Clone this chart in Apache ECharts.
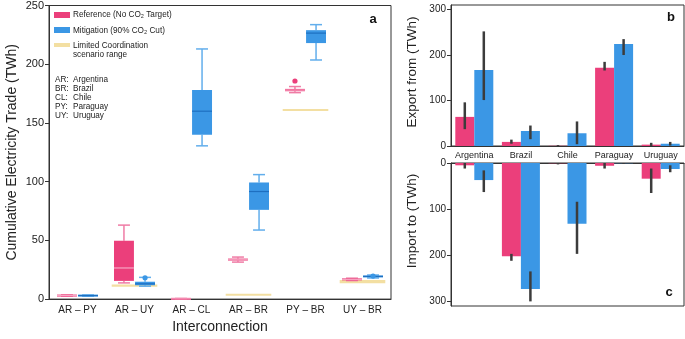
<!DOCTYPE html>
<html><head><meta charset="utf-8">
<script src="https://cdn.jsdelivr.net/npm/echarts/dist/echarts.min.js"></script>
<style>html,body{margin:0;padding:0;background:#fff}#c{width:685px;height:339px}</style>
</head><body><div id="c"></div>
<script>
// ---- Panel a: cumulative electricity trade by interconnection ----
const interconnections = ['AR – PY','AR – UY','AR – CL','AR – BR','PY – BR','UY – BR'];
// [min, q1, median, q3, max]
const refBox = [[2.5,2.8,3,3.2,3.5],[13.8,15.5,26.5,49.7,63],[0,0,0.2,0.4,0.5],[31.5,32.8,33.5,34.5,35.8],[175.8,177,178,179,181],[15.8,16.3,16.8,17.3,17.8]];
const mitBox = [[2.5,2.8,3,3.2,3.5],[11,11.8,13,14.8,18.5],[130.5,140,160,178,213],[58.8,76,91.6,99.3,106],[203.6,218,226.5,229,233.7],[18,18.8,19.3,19.8,20.5]];
const refOutliers = [[4,185.7]];          // [category index, value]
const mitOutliers = [[1,18.2],[5,19.6]];
const limitedRange = [null,[10.5,12.5],null,[3,4.2],[160.2,161.8],[13.5,16.3]];
const leftTicks = [0,50,100,150,200,250];

// ---- Panels b / c: export from / import to ----
const countries = ['Argentina','Brazil','Chile','Paraguay','Uruguay'];
const exportRef = [64, 9, 0.5, 172, 3];
const exportRefErr = [[37,96],[5,14],[0,2],[166,185],[0,7]];
const exportMit = [167, 33, 28, 224, 5];
const exportMitErr = [[101,252],[15,45],[4,54],[200,235],[1,9]];
const importRef = [5, 202, 0.5, 6, 34];
const importRefErr = [[0,12],[197,212],[0,3],[0,12],[12,65]];
const importMit = [37, 273, 131.5, 0.5, 13];
const importMitErr = [[16,63],[235,300],[84,197],[0,2],[5,20]];
const rightTicks = [0,100,200,300];

const PINK = '#EB3F7B', BLUE = '#3B97E5', YELLOW = '#F3DFA2';
const PINK_W = '#EF7CA5', BLUE_W = '#62AEEC', PINK_MED = '#F7A6C3', BLUE_MED = '#1E6FC0';
const FONT = 'Liberation Sans, Arial, Helvetica, sans-serif';
const AX = '#333';

function makeBox(boxes, sign, fill, whisk, med) {
  return {
    type: 'custom', xAxisIndex: 0, yAxisIndex: 0, z: 3,
    data: boxes.map((b, i) => [i].concat(b)),
    renderItem(params, api) {
      const i = api.value(0);
      const bw = api.size([1, 0])[0];
      const cx = api.coord([i, 0])[0] + sign * bw * 0.185;
      const hw = bw * 0.175, cw = hw * 0.6;
      const y = k => api.coord([i, api.value(k)])[1];
      const ymin = y(1), yq1 = y(2), ymed = y(3), yq3 = y(4), ymax = y(5);
      let top = yq3, h = yq1 - yq3;
      if (h < 2) { top = (yq1 + yq3) / 2 - 1; h = 2; }
      const ws = {stroke: whisk, lineWidth: 1.5};
      return {type: 'group', children: [
        {type: 'line', shape: {x1: cx, y1: ymax, x2: cx, y2: yq3}, style: ws},
        {type: 'line', shape: {x1: cx, y1: yq1, x2: cx, y2: ymin}, style: ws},
        {type: 'line', shape: {x1: cx - cw, y1: ymax, x2: cx + cw, y2: ymax}, style: ws},
        {type: 'line', shape: {x1: cx - cw, y1: ymin, x2: cx + cw, y2: ymin}, style: ws},
        {type: 'rect', shape: {x: cx - hw, y: top, width: 2 * hw, height: h}, style: {fill: fill}},
        {type: 'line', shape: {x1: cx - hw, y1: ymed, x2: cx + hw, y2: ymed}, style: {stroke: med, lineWidth: 1.2}}
      ]};
    }
  };
}
function makeOutliers(pts, sign, color) {
  return {
    type: 'custom', xAxisIndex: 0, yAxisIndex: 0, z: 4,
    data: pts,
    renderItem(params, api) {
      const bw = api.size([1, 0])[0];
      const p = api.coord([api.value(0), api.value(1)]);
      return {type: 'circle', shape: {cx: p[0] + sign * bw * 0.185, cy: p[1], r: 2.6}, style: {fill: color}};
    }
  };
}
function makeRange(ranges) {
  return {
    type: 'custom', xAxisIndex: 0, yAxisIndex: 0, z: 2,
    data: ranges.map((r, i) => r ? [i, r[0], r[1]] : [i, '-', '-']),
    renderItem(params, api) {
      if (isNaN(api.value(1))) return;
      const i = api.value(0);
      const bw = api.size([1, 0])[0];
      const lo = api.coord([i, api.value(1)]), hi = api.coord([i, api.value(2)]);
      let top = hi[1], h = lo[1] - hi[1];
      if (h < 2) { top = (lo[1] + hi[1]) / 2 - 1; h = 2; }
      return {type: 'rect', shape: {x: lo[0] - bw * 0.4, y: top, width: bw * 0.8, height: h}, style: {fill: YELLOW}};
    }
  };
}
function makeErr(errs, sign, xi, yi) {
  return {
    type: 'custom', xAxisIndex: xi, yAxisIndex: yi, z: 5,
    data: errs.map((e, i) => [i, e[0], e[1]]),
    renderItem(params, api) {
      const i = api.value(0);
      const bw = api.size([1, 0])[0];
      const p1 = api.coord([i, api.value(1)]), p2 = api.coord([i, api.value(2)]);
      const x = p1[0] + sign * bw * 0.204;
      return {type: 'line', shape: {x1: x, y1: p1[1], x2: x, y2: p2[1]}, style: {stroke: '#3c3c3c', lineWidth: 2.5}};
    }
  };
}

const chart = echarts.init(document.getElementById('c'), null, {renderer: 'canvas'});
const txt = {fontFamily: FONT, color: '#222'};
const option = {
  animation: false,
  backgroundColor: '#fff',
  textStyle: {fontFamily: FONT},
  grid: [
    {left: 49, top: 4, width: 342, height: 302, show: true, borderColor: AX, borderWidth: 1},
    {left: 451, top: 5, width: 233, height: 141, show: true, borderColor: AX, borderWidth: 1},
    {left: 451, top: 163, width: 233, height: 143, show: true, borderColor: AX, borderWidth: 1}
  ],
  xAxis: [
    {type: 'category', gridIndex: 0, data: interconnections,
     axisLine: {lineStyle: {color: AX}}, axisTick: {alignWithLabel: true, length: 4, lineStyle: {color: AX}},
     axisLabel: Object.assign({fontSize: 10, margin: 6, interval: 0}, txt),
     name: 'Interconnection', nameLocation: 'middle', nameGap: 20,
     nameTextStyle: Object.assign({fontSize: 14}, txt)},
    {type: 'category', gridIndex: 1, data: countries,
     axisLine: {lineStyle: {color: AX}}, axisTick: {show: false},
     axisLabel: Object.assign({fontSize: 9, margin: 5, interval: 0, hideOverlap: false}, txt)},
    {type: 'category', gridIndex: 2, data: countries, position: 'top',
     axisLine: {lineStyle: {color: AX}}, axisTick: {show: false}, axisLabel: {show: false}}
  ],
  yAxis: [
    {type: 'value', gridIndex: 0, min: 0, max: 250, interval: 50,
     axisLine: {show: true, lineStyle: {color: AX}}, axisTick: {show: true, length: 4, lineStyle: {color: AX}},
     axisLabel: Object.assign({fontSize: 11, margin: 5, customValues: leftTicks}, txt), splitLine: {show: false},
     name: 'Cumulative Electricity Trade (TWh)', nameLocation: 'middle', nameGap: 30,
     nameTextStyle: Object.assign({fontSize: 14}, txt)},
    {type: 'value', gridIndex: 1, min: 0, max: 310,
     axisLine: {show: true, lineStyle: {color: AX}},
     axisTick: {show: true, length: 4, lineStyle: {color: AX}, customValues: rightTicks},
     axisLabel: Object.assign({fontSize: 10, margin: 5, customValues: rightTicks}, txt), splitLine: {show: false}},
    {type: 'value', gridIndex: 2, min: 0, max: 310, inverse: true,
     axisLine: {show: true, lineStyle: {color: AX}},
     axisTick: {show: true, length: 4, lineStyle: {color: AX}, customValues: rightTicks},
     axisLabel: Object.assign({fontSize: 10, margin: 5, customValues: rightTicks}, txt), splitLine: {show: false}}
  ],
  series: [
    makeRange(limitedRange),
    makeBox(refBox, -1, PINK, PINK_W, PINK_MED),
    makeBox(mitBox, 1, BLUE, BLUE_W, BLUE_MED),
    makeOutliers(refOutliers, -1, PINK),
    makeOutliers(mitOutliers, 1, BLUE),
    {type: 'bar', xAxisIndex: 1, yAxisIndex: 1, data: exportRef, barWidth: 19, barGap: '0%', itemStyle: {color: PINK}},
    {type: 'bar', xAxisIndex: 1, yAxisIndex: 1, data: exportMit, barWidth: 19, barGap: '0%', itemStyle: {color: BLUE}},
    {type: 'bar', xAxisIndex: 2, yAxisIndex: 2, data: importRef, barWidth: 19, barGap: '0%', itemStyle: {color: PINK}},
    {type: 'bar', xAxisIndex: 2, yAxisIndex: 2, data: importMit, barWidth: 19, barGap: '0%', itemStyle: {color: BLUE}},
    makeErr(exportRefErr, -1, 1, 1),
    makeErr(exportMitErr, 1, 1, 1),
    makeErr(importRefErr, -1, 2, 2),
    makeErr(importMitErr, 1, 2, 2)
  ],
  graphic: [
    {type: 'rect', left: 54, top: 12, shape: {width: 16, height: 6}, style: {fill: PINK}},
    {type: 'text', x: 73, y: 15, style: {text: 'Reference (No CO₂ Target)', font: '8.2px ' + FONT, fill: '#222', verticalAlign: 'middle'}},
    {type: 'rect', left: 54, top: 27, shape: {width: 16, height: 6}, style: {fill: BLUE}},
    {type: 'text', x: 73, y: 30.5, style: {text: 'Mitigation (90% CO₂ Cut)', font: '8.2px ' + FONT, fill: '#222', verticalAlign: 'middle'}},
    {type: 'rect', left: 54, top: 43, shape: {width: 16, height: 4}, style: {fill: YELLOW}},
    {type: 'text', x: 73, y: 45.5, style: {text: 'Limited Coordination', font: '8.2px ' + FONT, fill: '#222', verticalAlign: 'middle'}},
    {type: 'text', x: 73, y: 54.5, style: {text: 'scenario range', font: '8.2px ' + FONT, fill: '#222', verticalAlign: 'middle'}},
    {type: 'text', x: 55, y: 80, style: {text: 'AR:', font: '8.2px ' + FONT, fill: '#222', verticalAlign: 'middle'}},
    {type: 'text', x: 73, y: 80, style: {text: 'Argentina', font: '8.2px ' + FONT, fill: '#222', verticalAlign: 'middle'}},
    {type: 'text', x: 55, y: 89, style: {text: 'BR:', font: '8.2px ' + FONT, fill: '#222', verticalAlign: 'middle'}},
    {type: 'text', x: 73, y: 89, style: {text: 'Brazil', font: '8.2px ' + FONT, fill: '#222', verticalAlign: 'middle'}},
    {type: 'text', x: 55, y: 97.7, style: {text: 'CL:', font: '8.2px ' + FONT, fill: '#222', verticalAlign: 'middle'}},
    {type: 'text', x: 73, y: 97.7, style: {text: 'Chile', font: '8.2px ' + FONT, fill: '#222', verticalAlign: 'middle'}},
    {type: 'text', x: 55, y: 106.5, style: {text: 'PY:', font: '8.2px ' + FONT, fill: '#222', verticalAlign: 'middle'}},
    {type: 'text', x: 73, y: 106.5, style: {text: 'Paraguay', font: '8.2px ' + FONT, fill: '#222', verticalAlign: 'middle'}},
    {type: 'text', x: 55, y: 115.5, style: {text: 'UY:', font: '8.2px ' + FONT, fill: '#222', verticalAlign: 'middle'}},
    {type: 'text', x: 73, y: 115.5, style: {text: 'Uruguay', font: '8.2px ' + FONT, fill: '#222', verticalAlign: 'middle'}},
    {type: 'text', x: 373, y: 19, style: {text: 'a', font: 'bold 13px ' + FONT, fill: '#111', align: 'center', verticalAlign: 'middle'}},
    {type: 'text', x: 671, y: 17, style: {text: 'b', font: 'bold 13px ' + FONT, fill: '#111', align: 'center', verticalAlign: 'middle'}},
    {type: 'text', x: 669, y: 292, style: {text: 'c', font: 'bold 13px ' + FONT, fill: '#111', align: 'center', verticalAlign: 'middle'}},
    {type: 'text', x: 412, y: 72, rotation: Math.PI / 2, style: {text: 'Export from (TWh)', font: '13.5px ' + FONT, fill: '#222', align: 'center', verticalAlign: 'middle'}},
    {type: 'text', x: 412, y: 221, rotation: Math.PI / 2, style: {text: 'Import to (TWh)', font: '13.5px ' + FONT, fill: '#222', align: 'center', verticalAlign: 'middle'}}
  ]
};
chart.setOption(option);
</script></body></html>
